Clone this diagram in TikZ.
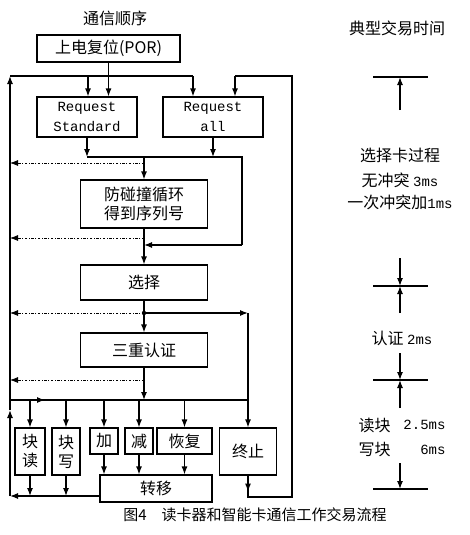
\documentclass[tikz,border=0pt]{standalone}
\usepackage{fontspec}
\setmainfont{Noto Sans CJK SC}
\newfontfamily\monofont{Liberation Mono}
\usetikzlibrary{arrows.meta}

\begin{document}
\begin{tikzpicture}[x=1pt,y=-1pt,
    box/.style={draw, line width=1.2pt, inner sep=0pt, align=center, font=\fontsize{16}{19}\selectfont},
    wire/.style={line width=1.2pt},
    arr/.style={wire, -{Latex[length=8pt,width=6pt]}},
    dotline/.style={line width=0.8pt, dash pattern=on 2.5pt off 1.5pt on 1pt off 1.5pt, -{Latex[length=8pt,width=6pt]}},
    lbl/.style={font=\fontsize{16}{19}\selectfont},
    num/.style={font=\monofont\fontsize{14}{19}\selectfont}]
    \useasboundingbox (0,0) rectangle (470,535);

    % Titles
    \node[lbl] (title) at (115,18) {通信顺序};
    \node[lbl] (ttime) at (397,28) {典型交易时间};

    % Boxes of the flow
    \node[box, minimum width=143pt, minimum height=27pt] (por) at (108.5,48.5) {上电复位(POR)};
    \node[box, font=\monofont\fontsize{14}{20}\selectfont, minimum width=100pt, minimum height=40pt] (rqs) at (87,117) {Request\\Standard};
    \node[box, font=\monofont\fontsize{14}{20}\selectfont, minimum width=100pt, minimum height=40pt] (rqa) at (213,117) {Request\\all};
    \node[box, minimum width=127pt, minimum height=48pt] (anti) at (144,204) {防碰撞循环\\得到序列号};
    \node[box, minimum width=127pt, minimum height=35pt] (sel) at (144,282.5) {选择};
    \node[box, minimum width=127pt, minimum height=34pt] (auth) at (144,350) {三重认证};
    \node[box, minimum width=30pt, minimum height=47pt] (bread) at (30,451.5) {块\\读};
    \node[box, minimum width=28pt, minimum height=47pt] (bwrite) at (66,451.5) {块\\写};
    \node[box, minimum width=28pt, minimum height=26pt] (inc) at (104,441) {加};
    \node[box, minimum width=28pt, minimum height=26pt] (dec) at (139,441) {减};
    \node[box, minimum width=55pt, minimum height=26pt] (rest) at (184.5,441) {恢复};
    \node[box, minimum width=57pt, minimum height=47pt] (halt) at (248,451.5) {终止};
    \node[box, minimum width=112pt, minimum height=27pt] (xfer) at (156,488.5) {转移};

    % Corners of the loops
    \coordinate (tl) at (10,76);
    \coordinate (bl) at (10,496);
    \coordinate (tr) at (292,76);
    \coordinate (br) at (292,497);
    \coordinate (ts) at (88,76);
    \coordinate (ta) at (193,76);
    \coordinate (tb) at (235,76);
    \coordinate (j1) at (144,157);
    \coordinate (m1) at (242,157);
    \coordinate (m2) at (242,245);
    \coordinate (j2) at (144,313);
    \coordinate (k) at (248,313);
    \coordinate (j3) at (144,400);

    % Power on
    \draw[arr] (por.south) -- (por.south |- rqs.north);

    % Left return line
    \draw[arr] (xfer.west |- bl) -- (bl);
    \draw[arr] (bl) -- (10,410);
    \draw[arr] (10,410) -- (tl);
    \draw[wire] (tl) -- (ta);
    \draw[arr] (ts) -- (ts |- rqs.north);
    \draw[arr] (ta) -- (ta |- rqa.north);

    % Right return line
    \draw[arr] (halt.south) -- ++(0,16);
    \draw[wire] (halt.south) -- (halt.south |- br) -- (br) -- (tr) -- (tb);
    \draw[arr] (tb) -- (tb |- rqa.north);

    % Requests to anticollision
    \draw[arr] (rqs.south) -- (rqs.south |- j1);
    \draw[arr] (rqa.south) -- (rqa.south |- j1);
    \draw[wire] (rqs.south |- j1) -- (m1) -- (m2);
    \draw[arr] (m2) -- (m2 -| anti.south);
    \draw[arr] (j1) -- (anti.north);
    \draw[dotline] (144,163) -- (10,163);

    % Select and authenticate
    \draw[arr] (anti.south) -- (sel.north);
    \draw[dotline] (144,238) -- (10,238);
    \draw[arr] (sel.south) -- (auth.north);
    \fill (j2) circle (2.2pt);
    \draw[dotline] (j2) -- (j2 -| tl);
    \draw[arr] (j2) -- (k);
    \draw[arr] (k) -- (halt.north);
    \draw[dotline] (144,380) -- (10,380);
    \draw[arr] (auth.south) -- (j3);

    % Operations
    \draw[wire] (10,400) -- (248,400);
    \draw[arr] (10,400) -- (45,400);
    \foreach \n in {bread,bwrite,inc,dec,rest}
        \draw[arr] (\n.north |- j3) -- (\n.north);
    \foreach \n in {inc,dec,rest}
        \draw[arr] (\n.south) -- (\n.south |- xfer.north);
    \draw[arr] (bread.south) -- (bread.south |- bl);
    \draw[arr] (bwrite.south) -- (bwrite.south |- bl);

    % Time scale
    \foreach \y in {77,286,380,489}
        \draw[wire] (373,\y) -- (428,\y);
    \draw[arr] (400,110) -- (400,77);
    \draw[arr] (400,258) -- (400,286);
    \draw[arr] (400,313) -- (400,286);
    \draw[arr] (400,353) -- (400,380);
    \draw[arr] (400,408) -- (400,380);
    \draw[arr] (400,463) -- (400,489);

    \node[lbl] (tsel) at (400,155) {选择卡过程};
    \node[lbl] (tsel1) at (400,180) {无冲突 {\monofont\fontsize{14}{19}\selectfont 3ms}};
    \node[lbl] (tsel2) at (400,202) {一次冲突加{\monofont\fontsize{14}{19}\selectfont 1ms}};
    \node[lbl] (tauth) at (402,338) {认证 {\monofont\fontsize{14}{19}\selectfont 2ms}};
    \node[lbl, anchor=west] (trd) at (355,425) {读块};
    \node[num, anchor=east] (trdv) at (449,425) {2.5ms};
    \node[lbl, anchor=west] (twr) at (355,450) {写块};
    \node[num, anchor=east] (twrv) at (449,450) {6ms};

    % Caption
    \node[font=\fontsize{15}{18}\selectfont] (cap) at (255,515) {图4\quad 读卡器和智能卡通信工作交易流程};
\end{tikzpicture}
\end{document}
